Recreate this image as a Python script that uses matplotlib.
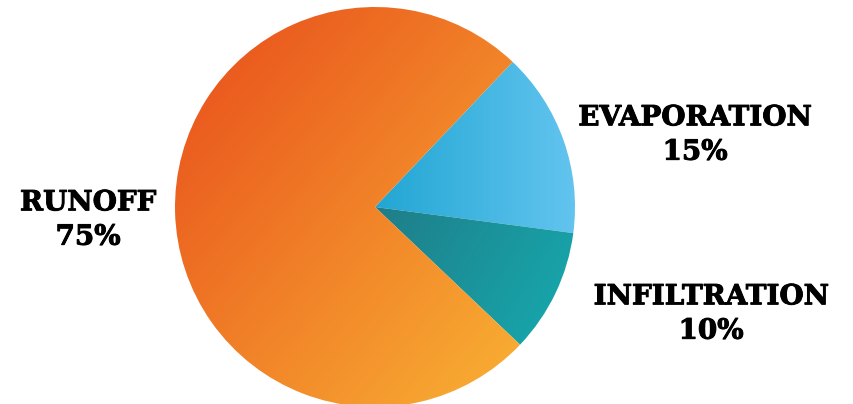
import numpy as np
import matplotlib
matplotlib.use("Agg")
import matplotlib.pyplot as plt
import matplotlib.patheffects as pe
from matplotlib.colors import LinearSegmentedColormap

# data
categories = ["EVAPORATION", "INFILTRATION", "RUNOFF"]
shares = [15, 10, 75]
# gradient colours (start, end) and gradient direction in degrees
grad_colors = [("#22a6d3", "#62c4ef"), ("#1f7d88", "#16abb0"), ("#e84c1b", "#f9b234")]
grad_dirs = [0, -30, -40]

label_pos = [(695, 135), (711, 314), (88, 220)]

fig = plt.figure(figsize=(8.54, 4.04), dpi=100)
ax = fig.add_axes([0, 0, 1, 1])

cx, cy, r = 375, 404 - 207, 200
wedges, _ = ax.pie(shares, startangle=46.5, counterclock=False,
                   center=(cx, cy), radius=r,
                   wedgeprops=dict(linewidth=0))

# fill each wedge with a linear gradient clipped to it
n = 300
for w, (c0, c1), ang in zip(wedges, grad_colors, grad_dirs):
    w.set_facecolor("none")
    bb = w.get_path().get_extents()
    X, Y = np.meshgrid(np.linspace(bb.x0, bb.x1, n), np.linspace(bb.y0, bb.y1, n))
    a = np.deg2rad(ang)
    t = X * np.cos(a) + Y * np.sin(a)
    t = (t - t.min()) / (t.max() - t.min())
    cmap = LinearSegmentedColormap.from_list("g", [c0, c1])
    im = ax.imshow(t, cmap=cmap, extent=(bb.x0, bb.x1, bb.y0, bb.y1),
                   origin="lower", interpolation="bilinear", zorder=1)
    im.set_clip_path(w)

for name, val, (x, y) in zip(categories, shares, label_pos):
    ax.text(x, 404 - y, f"{name}\n{val}%", ha="center", va="center",
            fontsize=20, fontweight="bold", family="DejaVu Serif",
            linespacing=1.35, color="black",
            path_effects=[pe.withStroke(linewidth=0.7, foreground="black")])

ax.set_xlim(0, 854)
ax.set_ylim(0, 404)
ax.set_aspect("equal")
ax.axis("off")

plt.savefig("out.png", dpi=100)
